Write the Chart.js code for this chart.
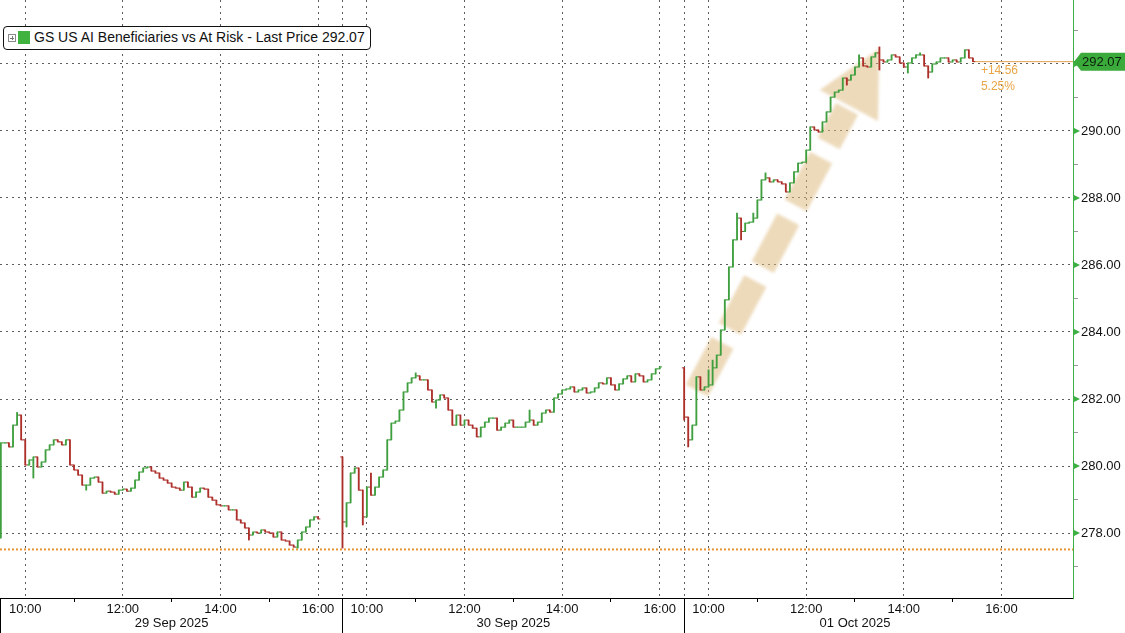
<!DOCTYPE html>
<html>
<head>
<meta charset="utf-8">
<script src="https://cdn.jsdelivr.net/npm/chart.js@4.4.1/dist/chart.umd.min.js"></script>
<style>
html,body{margin:0;padding:0;background:#fff;}
#wrap{position:relative;width:1125px;height:633px;overflow:hidden;}
#legend{position:absolute;left:3px;top:26px;width:368px;height:24px;box-sizing:border-box;border:1px solid #111;border-radius:4px;background:#fff;font:14px "Liberation Sans",Arial,sans-serif;color:#111;}
#legend .ico{position:absolute;left:4px;top:7px;width:6px;height:6px;border:1px solid #8a8a8a;}
#legend .ico:before{content:"";position:absolute;left:1px;top:2.5px;width:4px;height:1px;background:#777;}
#legend .ico:after{content:"";position:absolute;left:2.5px;top:1px;width:1px;height:4px;background:#777;}
#legend .sw{position:absolute;left:14px;top:4px;width:12px;height:13px;background:#3fb23f;}
#legend .txt{position:absolute;left:30px;top:2px;white-space:nowrap;}
</style>
</head>
<body>
<div id="wrap">
<canvas id="c" width="1125" height="633"></canvas>
<div id="legend"><span class="ico"></span><span class="sw"></span><span class="txt" id="legtxt"></span></div>
</div>
<script>
// ---------------- DATA ----------------
const seriesName = 'GS US AI Beneficiaries vs At Risk';
const sessionDates = ['29 Sep 2025', '30 Sep 2025', '01 Oct 2025'];
const timeLabels = ['10:00', '12:00', '14:00', '16:00'];
const timeLabelOffsets = [30, 150, 270, 390];      // minutes after 09:30
const minorHourOffsets = [90, 210, 330];           // 11:00, 13:00, 15:00
const sessionOpens = [277.85, 280.27, 282.93];     // first print of each session
// 5-minute closes, 09:30 onwards
const closes29 = [280.69, 280.69, 280.57, 281.22, 281.52, 280.78, 280.03, 280.18, 280.27, 279.97,
  280.12, 280.48, 280.63, 280.78, 280.72, 280.63, 280.78, 280.03, 279.88, 279.73,
  279.43, 279.43, 279.64, 279.67, 279.52, 279.19, 279.25, 279.22, 279.16, 279.28,
  279.31, 279.25, 279.34, 279.58, 279.82, 279.94, 279.97, 279.85, 279.79, 279.64,
  279.58, 279.49, 279.37, 279.34, 279.28, 279.52, 279.37, 279.07, 279.22, 279.34,
  279.31, 279.07, 278.98, 278.84, 278.81, 278.81, 278.69, 278.69, 278.39, 278.30,
  278.15, 277.94, 278.03, 278.00, 278.09, 278.03, 278.00, 277.88, 278.03, 277.79,
  277.76, 277.64, 277.58, 277.79, 278.03, 278.18, 278.39, 278.48, 278.42];
const closes30 = [278.33, 278.90, 279.79, 279.94, 279.28, 278.48, 279.37, 279.13, 279.37, 279.67,
  279.88, 280.78, 281.28, 281.34, 281.67, 282.21, 282.48, 282.63, 282.69, 282.57,
  282.57, 282.27, 281.91, 281.97, 282.12, 282.03, 281.67, 281.22, 281.52, 281.22,
  281.37, 281.22, 281.13, 280.87, 281.16, 281.31, 281.43, 281.43, 281.07, 281.16,
  281.28, 281.37, 281.16, 281.16, 281.16, 281.31, 281.37, 281.22, 281.31, 281.58,
  281.67, 281.61, 282.03, 282.15, 282.27, 282.30, 282.36, 282.21, 282.27, 282.33,
  282.18, 282.21, 282.33, 282.48, 282.45, 282.63, 282.42, 282.27, 282.45, 282.60,
  282.69, 282.51, 282.75, 282.69, 282.51, 282.57, 282.75, 282.90, 282.96];
const closes01 = [281.46, 280.78, 281.22, 282.66, 282.27, 282.36, 282.42, 282.93, 283.31, 284.06,
  284.96, 285.94, 286.75, 287.40, 287.00, 287.25, 287.28, 287.40, 287.94, 288.54,
  288.60, 288.48, 288.54, 288.48, 288.42, 288.18, 288.45, 288.78, 289.04, 289.07,
  289.43, 290.12, 290.03, 289.97, 290.27, 290.57, 291.01, 291.16, 291.22, 291.58,
  291.52, 291.67, 291.91, 292.18, 291.94, 291.91, 292.21, 292.33, 292.12, 292.06,
  292.12, 292.27, 292.21, 292.03, 291.91, 292.03, 292.18, 292.27, 292.27, 291.94,
  291.76, 292.00, 292.06, 292.18, 292.18, 292.06, 292.12, 292.06, 292.18, 292.42,
  292.18, 292.07];
// wick extremes beyond open/close: [session, bar, high, low]
const wickExtremes = [
  [0, 4, 281.60, null], [0, 8, null, 279.64], [0, 21, null, 279.28], [0, 61, null, 277.79], [0, 73, null, 277.55],
  [1, 0, null, 277.55], [1, 1, null, 278.18], [1, 5, null, 278.24], [1, 7, 279.79, null], [1, 18, 282.78, null],
  [1, 23, null, 281.73], [1, 46, 281.67, null],
  [2, 0, null, 281.37], [2, 1, null, 280.57], [2, 6, 282.87, null], [2, 7, 283.16, 282.72], [2, 13, 287.55, null],
  [2, 14, null, 286.75], [2, 17, 287.55, null], [2, 20, 288.75, null], [2, 37, null, 291.01], [2, 40, null, 291.37],
  [2, 43, 292.27, null], [2, 48, 292.51, 291.82], [2, 55, null, 291.73], [2, 58, 292.33, null], [2, 60, null, 291.58]
];
const refPrice = 277.51;
const lastPrice = 292.07;
const changeText = '+14.56';
const changePctText = '5.25%';
// annotation arrow (session-minute, price)
const arrowStart = [855.8, 282.25];
const arrowTip = [1079.5, 292.45];

// ---------------- SETUP ----------------
const SESSION_LEN = 420, BAR_MIN = 5, MIN_X = -1, MAX_X = 1318;
const Y_MIN = 276.06, Y_MAX = 293.91;
const GREEN = '#3f9f3f', RED = '#ad2f2a', ORANGE = '#e8952f', GRID = '#5e5e5e', AXIS_GREEN = '#3cb043';
const FONT = "'Liberation Sans', Arial, sans-serif";
Chart.defaults.font.family = FONT;

document.getElementById('legtxt').textContent = seriesName + ' - Last Price ' + lastPrice.toFixed(2);

const sessions = [closes29, closes30, closes01];
const wickData = [], wickCols = [], openPts = [], closePts = [], ocCols = [];
let lastT = 0;
sessions.forEach((cl, s) => {
  cl.forEach((c, k) => {
    const o = k === 0 ? sessionOpens[s] : cl[k - 1];
    let h = Math.max(o, c), l = Math.min(o, c);
    const w = wickExtremes.find(e => e[0] === s && e[1] === k);
    if (w) { if (w[2] != null) h = Math.max(h, w[2]); if (w[3] != null) l = Math.min(l, w[3]); }
    const t = s * SESSION_LEN + k * BAR_MIN;
    const col = c >= o ? GREEN : RED;
    wickData.push({x: t, y: [l, h]});
    wickCols.push(col);
    openPts.push({x: t - 1.2, y: o});
    closePts.push({x: t + 1.2, y: c});
    ocCols.push(col);
    lastT = t;
  });
});

const xTickVals = [];
for (let s = 0; s < 3; s++) {
  timeLabelOffsets.concat(minorHourOffsets).forEach(m => xTickVals.push(s * SESSION_LEN + m));
  if (s > 0) xTickVals.push(s * SESSION_LEN);
}
xTickVals.sort((a, b) => a - b);
const sepVals = [SESSION_LEN, 2 * SESSION_LEN];
const off = v => v - Math.floor(v / SESSION_LEN) * SESSION_LEN;
const isLabelTick = v => !sepVals.includes(v) && timeLabelOffsets.includes(off(v));
const isMinorTick = v => minorHourOffsets.includes(off(v)) && !sepVals.includes(v);

const yTickVals = [];
for (let v = 277; v <= 293; v++) yTickVals.push(v);

const arrowPlugin = {
  id: 'trendArrow',
  beforeDatasetsDraw(chart) {
    const {ctx, chartArea} = chart, x = chart.scales.x, y = chart.scales.y;
    const x0 = x.getPixelForValue(arrowStart[0]), y0 = y.getPixelForValue(arrowStart[1]);
    const x1 = x.getPixelForValue(arrowTip[0]), y1 = y.getPixelForValue(arrowTip[1]);
    const dx = x1 - x0, dy = y1 - y0, L = Math.hypot(dx, dy), ux = dx / L, uy = dy / L, nx = -uy, ny = ux;
    const headLen = 64, headHalf = 33;
    const bx = x1 - ux * headLen, by = y1 - uy * headLen;
    ctx.save();
    ctx.beginPath(); ctx.rect(chartArea.left, chartArea.top, chartArea.width, chartArea.height); ctx.clip();
    ctx.filter = 'blur(1.8px)';
    const col = 'rgba(220,182,118,0.5)';
    ctx.strokeStyle = col; ctx.lineWidth = 25; ctx.lineCap = 'butt';
    ctx.setLineDash([54, 16]);
    ctx.beginPath(); ctx.moveTo(x0, y0); ctx.lineTo(bx - ux * 4, by - uy * 4); ctx.stroke();
    ctx.setLineDash([]);
    ctx.fillStyle = col;
    ctx.beginPath(); ctx.moveTo(x1, y1);
    ctx.lineTo(bx + nx * headHalf, by + ny * headHalf);
    ctx.lineTo(bx - nx * headHalf, by - ny * headHalf);
    ctx.closePath(); ctx.fill();
    ctx.restore();
  }
};

const decoPlugin = {
  id: 'deco',
  afterDraw(chart) {
    const {ctx, chartArea} = chart, x = chart.scales.x, y = chart.scales.y;
    ctx.save();
    // session separators below the axis
    ctx.strokeStyle = '#000'; ctx.lineWidth = 1;
    [chartArea.left + 0.5].concat(sepVals.map(v => Math.round(x.getPixelForValue(v)) + 0.5)).forEach(px => {
      ctx.beginPath(); ctx.moveTo(px, chartArea.bottom); ctx.lineTo(px, chart.height); ctx.stroke();
    });
    // green arrow marks on major y ticks
    ctx.fillStyle = AXIS_GREEN;
    yTickVals.filter(v => v % 2 === 0).forEach(v => {
      const py = y.getPixelForValue(v);
      ctx.beginPath(); ctx.moveTo(chartArea.right + 1, py - 3); ctx.lineTo(chartArea.right + 7, py); ctx.lineTo(chartArea.right + 1, py + 3); ctx.closePath(); ctx.fill();
    });
    // last price tag
    const py = y.getPixelForValue(lastPrice), x0 = chartArea.right + 1;
    ctx.fillStyle = '#3aaa3a';
    ctx.beginPath(); ctx.moveTo(x0, py); ctx.lineTo(x0 + 7, py - 9); ctx.lineTo(chart.width, py - 9);
    ctx.lineTo(chart.width, py + 9); ctx.lineTo(x0 + 7, py + 9); ctx.closePath(); ctx.fill();
    ctx.fillStyle = '#0c1f0c'; ctx.font = '13px ' + FONT; ctx.textBaseline = 'middle'; ctx.textAlign = 'left';
    ctx.fillText(lastPrice.toFixed(2), x0 + 8, py + 1);
    // change annotation
    const lx = x.getPixelForValue(lastT);
    ctx.fillStyle = '#e9a646'; ctx.font = '12px ' + FONT;
    ctx.fillText(changeText, lx + 8, py + 9);
    ctx.fillText(changePctText, lx + 8, py + 25);
    ctx.restore();
  }
};

const zeroPad = axis => { axis.paddingLeft = 0; axis.paddingRight = 0; axis.paddingTop = 0; axis.paddingBottom = 0; };

new Chart(document.getElementById('c'), {
  type: 'bar',
  data: {
    datasets: [
      {type: 'line', data: [{x: MIN_X, y: refPrice}, {x: MAX_X, y: refPrice}], borderColor: ORANGE, borderWidth: 2,
       borderDash: [2, 2], pointRadius: 0, order: 10},
      {type: 'line', data: [{x: lastT + 1.2, y: lastPrice}, {x: MAX_X, y: lastPrice}], borderColor: '#e2a050', borderWidth: 1,
       pointRadius: 0, order: 9},
      {type: 'bar', data: wickData, backgroundColor: wickCols, borderWidth: 0, barThickness: 1.2, order: 2},
      {type: 'line', data: openPts, showLine: false, pointStyle: 'line', pointRadius: 1.3, pointBorderWidth: 1,
       pointBorderColor: ocCols, pointBackgroundColor: ocCols, order: 1},
      {type: 'line', data: closePts, showLine: false, pointStyle: 'line', pointRadius: 1.3, pointBorderWidth: 1,
       pointBorderColor: ocCols, pointBackgroundColor: ocCols, order: 1}
    ]
  },
  options: {
    responsive: false, animation: false, events: [],
    layout: {padding: 0, autoPadding: false},
    plugins: {legend: {display: false}, tooltip: {enabled: false}},
    scales: {
      x: {
        type: 'linear', position: 'bottom', min: MIN_X, max: MAX_X, bounds: 'data', offset: false, weight: 0,
        afterBuildTicks: axis => { axis.ticks = xTickVals.map(v => ({value: v})); },
        afterFit: axis => { axis.height = 18; zeroPad(axis); },
        ticks: {
          autoSkip: false, maxRotation: 0, minRotation: 0, padding: 0, color: '#111', font: {size: 13},
          callback: v => isLabelTick(v) ? timeLabels[timeLabelOffsets.indexOf(off(v))] : ''
        },
        grid: {
          offset: false, lineWidth: 1, tickLength: 4,
          color: c => (c.tick && !isMinorTick(c.tick.value)) ? GRID : 'rgba(0,0,0,0)',
          tickColor: c => (c.tick && isMinorTick(c.tick.value)) ? '#000' : 'rgba(0,0,0,0)'
        },
        border: {display: true, color: '#000', width: 1, dash: [2, 4]}
      },
      x2: {
        type: 'linear', position: 'bottom', min: MIN_X, max: MAX_X, bounds: 'data', offset: false, weight: 1,
        afterBuildTicks: axis => { axis.ticks = sessionDates.map((d, i) => ({value: i * SESSION_LEN + SESSION_LEN / 2})); },
        afterFit: axis => { axis.height = 17; zeroPad(axis); },
        ticks: {
          autoSkip: false, maxRotation: 0, minRotation: 0, padding: 0, color: '#111', font: {size: 13},
          callback: v => sessionDates[Math.round((v - SESSION_LEN / 2) / SESSION_LEN)]
        },
        grid: {display: false, drawTicks: false},
        border: {display: false}
      },
      y: {
        type: 'linear', position: 'right', min: Y_MIN, max: Y_MAX, bounds: 'data',
        afterBuildTicks: axis => { axis.ticks = yTickVals.map(v => ({value: v})); },
        afterFit: axis => { axis.width = 52; zeroPad(axis); },
        ticks: {
          autoSkip: false, padding: 3, color: '#111', font: {size: 13},
          callback: v => v % 2 === 0 ? v.toFixed(2) : ''
        },
        grid: {
          lineWidth: 1, tickLength: 5,
          color: c => (c.tick && c.tick.value % 2 === 0) ? GRID : 'rgba(0,0,0,0)',
          tickColor: c => (c.tick && c.tick.value % 2 === 0) ? AXIS_GREEN : '#9a9a9a'
        },
        border: {display: true, color: AXIS_GREEN, width: 1, dash: [2, 4]}
      }
    }
  },
  plugins: [arrowPlugin, decoPlugin]
});
</script>
</body>
</html>
